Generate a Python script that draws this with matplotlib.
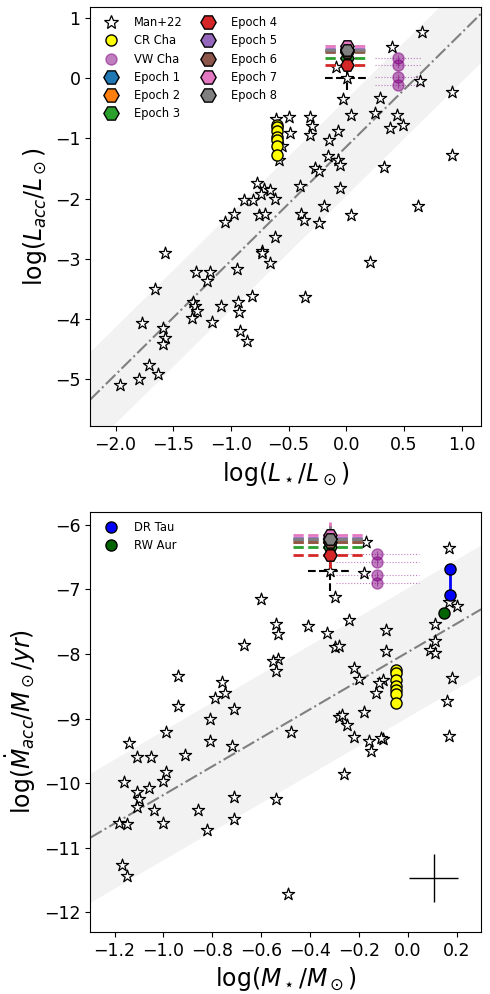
import matplotlib
matplotlib.use('Agg')
import matplotlib.pyplot as plt
from matplotlib.lines import Line2D
import numpy as np

# ── Man+22 sample ─────────────────────────────────────────────────────────────
man_logL = [0.66, 0.40, -0.09, 0.01, 0.64, 0.92, -0.03, 0.29, 0.04, 0.25, 0.44,
            -0.50, -0.31, -0.61, 0.49, 0.38, -0.30, -0.31, -0.07, -0.15, -0.49,
            -0.56, -0.58, -0.16, -0.07, -0.05, 0.33, -0.27, -0.24, -0.40, -0.05,
            -0.77, -0.71, -0.66, -0.74, -0.62, -0.89, -0.81, -0.97, -1.05, -0.76,
            -0.70, -0.39, -0.37, -0.24, -0.62, -0.73, -0.73, -0.66, -1.57, -0.95,
            -1.30, -1.18, -1.21, -1.66, -0.82, -0.94, -0.36, -1.33, -1.31, -1.29,
            -1.34, -1.16, -1.09, -0.93, -0.92, -0.86, -1.77, -1.59, -1.57, -1.59,
            -1.71, -1.63, -1.80, -1.96, 0.21, 0.62, 0.92, 0.04, -0.19]
man_logLacc = [0.76, 0.52, 0.19, 0.00, -0.05, -0.23, -0.34, -0.33, -0.61, -0.58, -0.61,
               -0.65, -0.64, -0.68, -0.78, -0.83, -0.80, -0.94, -0.88, -1.02, -0.91,
               -1.13, -1.36, -1.30, -1.36, -1.44, -1.47, -1.49, -1.55, -1.79, -1.82,
               -1.74, -1.84, -1.85, -1.93, -2.00, -2.03, -2.03, -2.25, -2.39, -2.28,
               -2.26, -2.26, -2.35, -2.41, -2.64, -2.87, -2.91, -3.07, -2.91, -3.17,
               -3.22, -3.22, -3.37, -3.50, -3.61, -3.71, -3.64, -3.72, -3.78, -3.87,
               -3.98, -4.04, -3.78, -3.88, -4.20, -4.36, -4.07, -4.15, -4.31, -4.41,
               -4.76, -4.91, -5.00, -5.10, -3.06, -2.13, -1.27, -2.28, -2.13]

man_logM = [-0.30, -0.60, -0.54, -0.53, -0.41, -0.33, -0.30, -0.28, -0.67, -0.53,
            -0.55, -0.54, -0.94, -0.76, -0.75, -0.79, -0.94, -0.71, -0.81, -0.28,
            -0.99, -0.48, -0.81, -1.14, -0.72, -1.11, -1.05, -0.91, -0.99, -1.16,
            -1.00, -1.06, -1.11, -1.10, -1.11, -1.04, -1.18, -1.15, -1.00, -0.86,
            -0.71, -0.71, -0.82, -0.54, -1.17, -1.15, -0.49,
            -0.32, -0.17, -0.18, 0.17, 0.20, 0.17, 0.11, -0.09, 0.11, 0.09, 0.11,
            -0.09, -0.10, 0.18, 0.16, -0.10, 0.17,
            -0.24, -0.22, -0.20, -0.27, -0.25, -0.22, -0.18, -0.16, -0.15, -0.13,
            -0.12, -0.26, -0.11]
man_logMacc = [-7.11, -7.15, -7.53, -7.69, -7.57, -7.67, -7.89, -7.88, -7.86, -8.08,
               -8.11, -8.27, -8.34, -8.43, -8.61, -8.68, -8.81, -8.85, -9.00, -8.98,
               -9.21, -9.21, -9.34, -9.37, -9.43, -9.60, -9.60, -9.56, -9.83, -9.98,
               -9.96, -10.08, -10.13, -10.25, -10.37, -10.41, -10.62, -10.63, -10.62, -10.42,
               -10.22, -10.55, -10.72, -10.25, -11.27, -11.43, -11.71,
               -6.72, -6.26, -6.75, -6.36, -7.25, -7.19, -7.53, -7.63, -7.80, -7.93, -7.99,
               -7.96, -8.40, -8.37, -8.72, -9.32, -9.27,
               -7.48, -8.22, -8.38, -8.95, -9.10, -9.28, -8.90, -9.35, -9.50, -8.60,
               -8.45, -9.85, -9.30]

# ── CR Cha ────────────────────────────────────────────────────────────────────
crcha_logL = [-0.60] * 7
crcha_logLacc = [-0.78, -0.82, -0.87, -0.98, -1.03, -1.12, -1.28]
crcha_logM = [-0.05] * 7
crcha_logMacc = [-8.25, -8.30, -8.40, -8.50, -8.55, -8.62, -8.75]

# ── VW Cha (literature) ───────────────────────────────────────────────────────
vwcha_logL = [0.45] * 4
vwcha_logLacc = [0.34, 0.21, 0.01, -0.12]
vwcha_logM = [-0.125] * 4
vwcha_logMacc = [-6.45, -6.58, -6.77, -6.90]

# ── VW Cha epochs ─────────────────────────────────────────────────────────────
epochs = ['Epoch 1', 'Epoch 2', 'Epoch 3', 'Epoch 4',
          'Epoch 5', 'Epoch 6', 'Epoch 7', 'Epoch 8']
ep_logL = 0.01
ep_logLacc = [0.47, 0.45, 0.34, 0.21, 0.49, 0.44, 0.54, 0.47]
ep_logM = -0.32
ep_logMacc = [-6.22, -6.27, -6.35, -6.47, -6.20, -6.26, -6.15, -6.22]

# VW Cha previous value (black dashed)
vw_prev_L, vw_prev_Lacc = 0.01, 0.0
vw_prev_M, vw_prev_Macc = -0.32, -6.72

# ── DR Tau / RW Aur ───────────────────────────────────────────────────────────
drtau_logM = [0.172, 0.172]
drtau_logMacc = [-6.68, -7.09]
rwaur_logM = [0.147]
rwaur_logMacc = [-7.36]

# ── Relations ─────────────────────────────────────────────────────────────────
rel_L = (1.89, -1.14, 0.8)     # slope, intercept, scatter
rel_M = (2.21, -7.97, 1.0)

EP_COLORS = ['C0', 'C1', 'C2', 'C3', 'C4', 'C5', 'C6', 'C7']
LEG_FS = 8.3
TICK_FS = 12.5
LAB_FS = 17
STAR_S = 85
MS = 8
HEX_MS = 9.5

fig = plt.figure(figsize=(4.9, 9.94), dpi=100)
ax1 = fig.add_axes([0.184, 0.571, 0.798, 0.422])
ax2 = fig.add_axes([0.184, 0.0625, 0.798, 0.4225])


def relation(ax, rel, xlim):
    xx = np.linspace(xlim[0], xlim[1], 50)
    yy = rel[0] * xx + rel[1]
    ax.fill_between(xx, yy - rel[2], yy + rel[2], color='gray', alpha=0.1, lw=0)
    ax.plot(xx, yy, color='gray', ls='-.', lw=1.5)


def epoch_points(ax, x, ys, xerr, yerr, prev):
    # previous value, black dashed cross
    eb = ax.errorbar(prev[0], prev[1], xerr=prev[2], yerr=prev[3], fmt='none',
                     ecolor='k', elinewidth=1.5, zorder=3)
    for c in eb[2]:
        c.set_linestyle('--')
    for y, col in zip(ys, EP_COLORS):
        eb = ax.errorbar(x, y, xerr=xerr, yerr=yerr, fmt='H', color=col,
                         ms=HEX_MS, mec='k', mew=1, elinewidth=2, zorder=5)
        eb[2][0].set_linestyle('--')


# legend handles
h_star = Line2D([], [], marker='*', ls='none', mfc='white', mec='k', ms=10, mew=0.9)
h_cr = Line2D([], [], marker='o', ls='none', color='yellow', mec='k', ms=MS)
h_vw = Line2D([], [], marker='o', ls='none', color='purple', alpha=0.5, ms=MS)
h_ep = [Line2D([], [], marker='H', ls='none', color=c, mec='k', ms=11)
        for c in EP_COLORS]

# ── Panel 1: Lacc vs L* ───────────────────────────────────────────────────────
xl1 = (-2.22, 1.17)
relation(ax1, rel_L, xl1)
ax1.scatter(man_logL, man_logLacc, marker='*', s=STAR_S, facecolor='white',
            edgecolor='k', lw=0.9, zorder=4)
ax1.plot(crcha_logL, crcha_logLacc, 'o', color='yellow', mec='k', ms=MS,
         ls='none', zorder=4)
eb = ax1.errorbar(vwcha_logL, vwcha_logLacc, xerr=0.2, yerr=0.05, fmt='o',
                  color='purple', alpha=0.5, ms=MS, elinewidth=0.8, zorder=4)
eb[2][0].set_linestyle(':')
epoch_points(ax1, ep_logL, ep_logLacc, 0.19, 0.1,
             (vw_prev_L, vw_prev_Lacc, 0.19, 0.2))
ax1.set_xlim(*xl1)
ax1.set_ylim(-5.78, 1.18)
ax1.set_xlabel(r'log($L_\star/L_\odot$)', fontsize=LAB_FS)
ax1.set_ylabel(r'log($L_{acc}/L_\odot$)', fontsize=LAB_FS)
ax1.tick_params(labelsize=TICK_FS)
ax1.legend([h_star, h_cr, h_vw] + h_ep, ['Man+22', 'CR Cha', 'VW Cha'] + epochs,
           loc='upper left', ncol=2, frameon=False, fontsize=LEG_FS,
           handletextpad=1.0, columnspacing=1.2, labelspacing=0.45,
           borderaxespad=0.4)

# ── Panel 2: Macc vs M* ───────────────────────────────────────────────────────
xl2 = (-1.3, 0.3)
relation(ax2, rel_M, xl2)
ax2.scatter(man_logM, man_logMacc, marker='*', s=STAR_S, facecolor='white',
            edgecolor='k', lw=0.9, zorder=4)
ax2.plot(crcha_logM, crcha_logMacc, 'o', color='yellow', mec='k', ms=MS,
         ls='none', zorder=4)
eb = ax2.errorbar(vwcha_logM, vwcha_logMacc, xerr=0.17, yerr=0.05, fmt='o',
                  color='purple', alpha=0.5, ms=MS, elinewidth=0.8, zorder=4)
eb[2][0].set_linestyle(':')
epoch_points(ax2, ep_logM, ep_logMacc, 0.15, 0.2,
             (vw_prev_M, vw_prev_Macc, 0.09, 0.3))
ax2.plot(drtau_logM, drtau_logMacc, '-', color='blue', lw=2, zorder=5)
ax2.plot(drtau_logM, drtau_logMacc, 'o', color='blue', mec='k', ms=MS, zorder=6)
ax2.plot(rwaur_logM, rwaur_logMacc, 'o', color='darkgreen', mec='k', ms=MS, zorder=6)
ax2.errorbar(0.105, -11.46, xerr=0.1, yerr=0.37, fmt='none', ecolor='k', lw=1)
ax2.set_xlim(*xl2)
ax2.set_ylim(-12.3, -5.8)
ax2.set_xticks(np.arange(-1.2, 0.21, 0.2))
ax2.set_xlabel(r'log($M_\star/M_\odot$)', fontsize=LAB_FS)
ax2.set_ylabel(r'log($\dot{M}_{acc}/M_\odot/yr$)', fontsize=LAB_FS)
ax2.tick_params(labelsize=TICK_FS)
h_dr = Line2D([], [], marker='o', ls='none', color='blue', mec='k', ms=MS)
h_rw = Line2D([], [], marker='o', ls='none', color='darkgreen', mec='k', ms=MS)
ax2.legend([h_dr, h_rw], ['DR Tau', 'RW Aur'], loc='upper left', frameon=False,
           fontsize=LEG_FS, handletextpad=1.0, labelspacing=0.45, borderaxespad=0.4)

plt.savefig('out.png', dpi=100)
